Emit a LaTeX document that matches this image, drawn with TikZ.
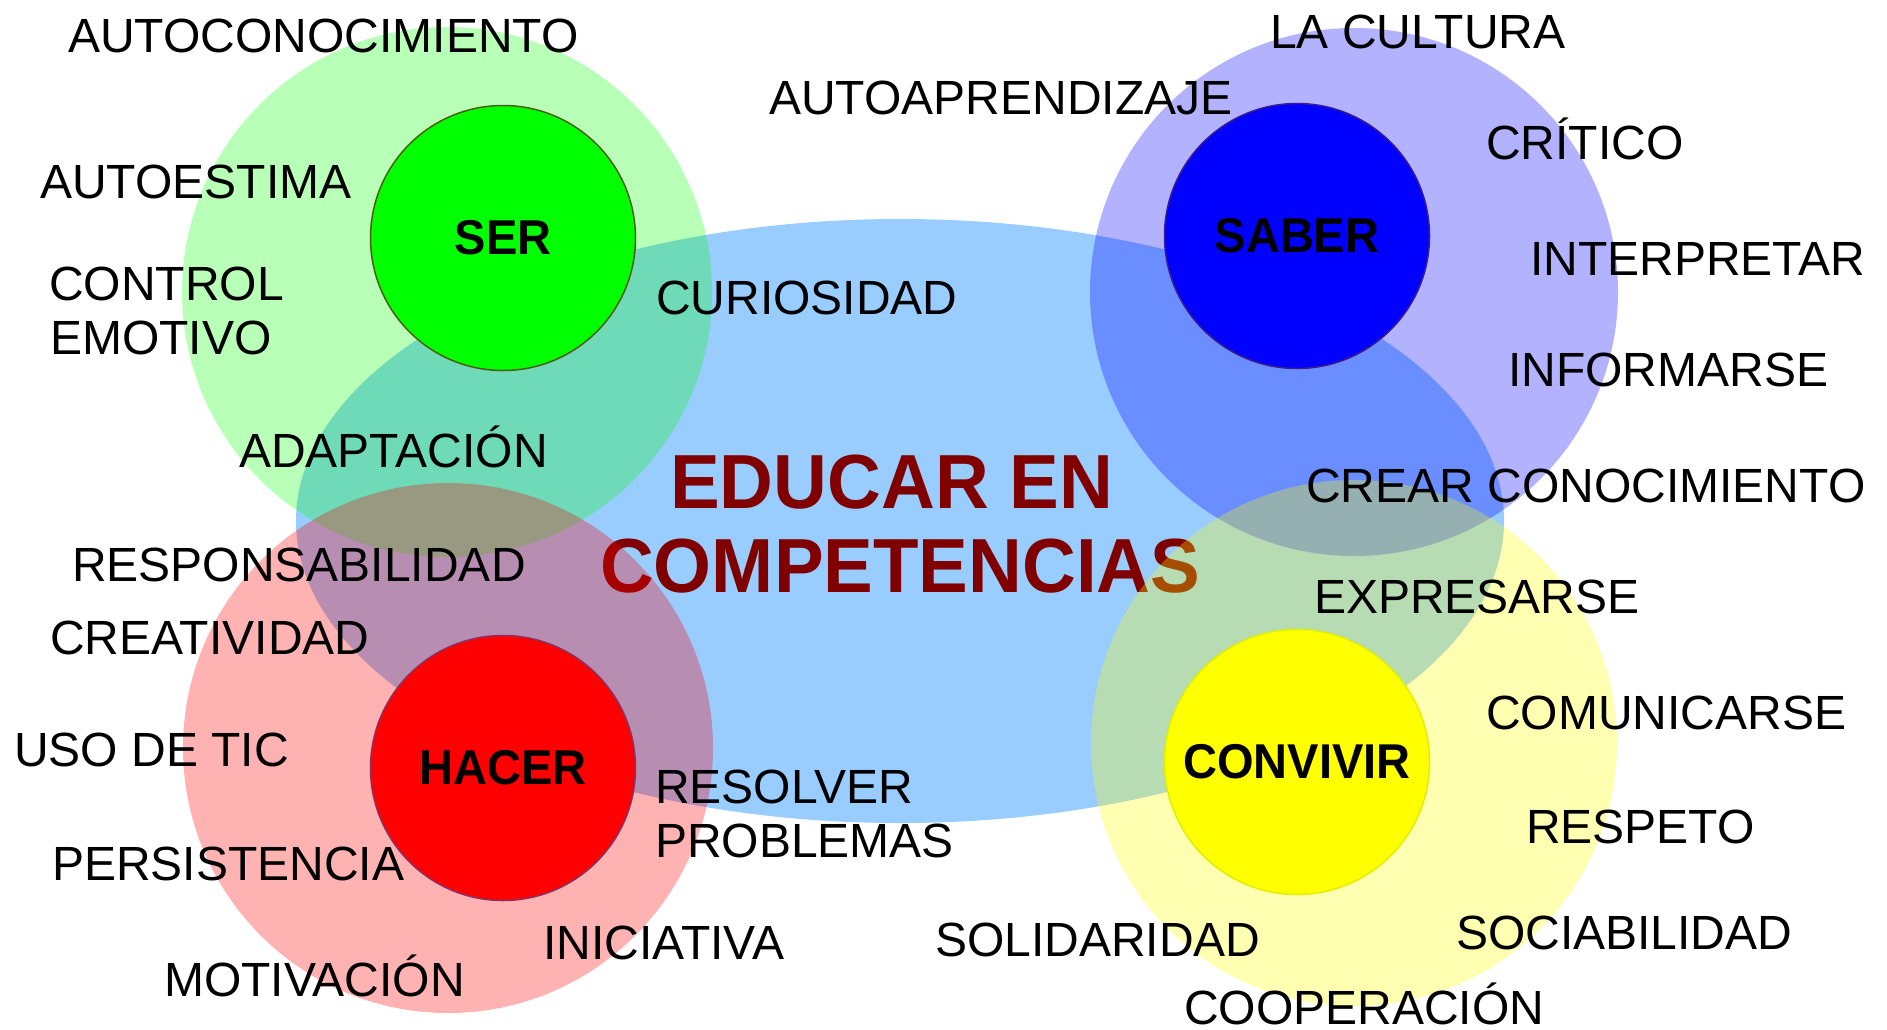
\documentclass[tikz,border=0pt]{standalone}
\usepackage{fontspec}
\setmainfont{Liberation Sans}
\usetikzlibrary{shapes.geometric}
\definecolor{ellblue}{HTML}{99CCFF}
\definecolor{titlered}{HTML}{800000}
\definecolor{pgreen}{HTML}{00FF00}
\definecolor{pblue}{HTML}{0000FF}
\definecolor{pred}{HTML}{FF0000}
\definecolor{pyellow}{HTML}{FFFF00}
\definecolor{serline}{HTML}{4D5E13}
\definecolor{saberline}{HTML}{3A1C8C}
\definecolor{hacerline}{HTML}{8B3060}
\definecolor{convline}{HTML}{DDF000}
\newcommand\lblfont{\fontsize{48}{54}\selectfont}
\newcommand\corefont{\fontsize{47}{52}\selectfont\bfseries}
\newcommand\ttlfont{\fontsize{74.5}{80}\selectfont\bfseries}
\begin{document}
\begin{tikzpicture}[x=1pt,y=-1pt,
  bigcirc/.style={circle,inner sep=0pt,minimum size=#1,fill opacity=0.3},
  core/.style={circle,inner sep=0pt,minimum size=265pt,line width=1.5pt,font=\corefont},
  lbl/.style={anchor=base west,inner sep=0pt,font=\lblfont},
  ttl/.style={anchor=base west,inner sep=0pt,font=\ttlfont,text=titlered}]
\useasboundingbox (0,0) rectangle (1887,1029);
\fill[white] (0,0) rectangle (1887,1029);
% central ellipse
\node[ellipse,inner sep=0pt,minimum width=1208pt,minimum height=604pt,fill=ellblue] (ell) at (900,521) {};
% title
\node[ttl] (t1) at (670,508) {\scalebox{1}[1.03]{EDUCAR EN}};
\node[ttl] (t2) at (600,592) {\scalebox{1}[1.03]{COMPETENCIAS}};
% big translucent circles
\node[bigcirc=530pt,fill=pgreen,fill opacity=0.28] (gser) at (447,292) {};
\node[bigcirc=528pt,fill=pblue] (gsaber) at (1354,292) {};
\node[bigcirc=530pt,fill=pred] (ghacer) at (448,748) {};
\node[bigcirc=526pt,fill=pyellow] (gconv) at (1354,743) {};
% core circles
\node[core,fill=pgreen,draw=serline] (ser) at (503,238) {\scalebox{1}[1.04]{SER}};
\node[core,fill=pblue,draw=saberline] (saber) at (1297,236) {\scalebox{1}[1.04]{SABER}};
\node[core,fill=pred,draw=hacerline] (hacer) at (503,768) {\scalebox{1}[1.04]{HACER}};
\node[core,fill=pyellow,draw=convline] (conv) at (1297,762) {\scalebox{1}[1.04]{CONVIVIR}};
% labels
\node[lbl] (l1) at (68,52) {AUTOCONOCIMIENTO};
\node[lbl] (l2) at (40,198) {AUTOESTIMA};
\node[lbl] (l3) at (49,300) {CONTROL};
\node[lbl] (l4) at (50,354) {EMOTIVO};
\node[lbl] (l5) at (239,467) {ADAPTACIÓN};
\node[lbl] (l6) at (656,314) {CURIOSIDAD};
\node[lbl] (l7) at (769,114) {AUTOAPRENDIZAJE};
\node[lbl] (l8) at (1270,48) {LA CULTURA};
\node[lbl] (l9) at (1486,159) {CRÍTICO};
\node[lbl] (l10) at (1530,275) {INTERPRETAR};
\node[lbl] (l11) at (1508,386) {INFORMARSE};
\node[lbl] (l12) at (1306,502) {CREAR CONOCIMIENTO};
\node[lbl] (l13) at (1314,613) {EXPRESARSE};
\node[lbl] (l14) at (1486,729) {COMUNICARSE};
\node[lbl] (l15) at (1526,843) {RESPETO};
\node[lbl] (l16) at (1456,949) {SOCIABILIDAD};
\node[lbl] (l17) at (1184,1024) {COOPERACIÓN};
\node[lbl] (l18) at (935,956) {SOLIDARIDAD};
\node[lbl] (l19) at (543,959) {INICIATIVA};
\node[lbl] (l20) at (164,996) {MOTIVACIÓN};
\node[lbl] (l21) at (52,880) {PERSISTENCIA};
\node[lbl] (l22) at (14,766) {USO DE TIC};
\node[lbl] (l23) at (50,654) {CREATIVIDAD};
\node[lbl] (l24) at (72,581) {RESPONSABILIDAD};
\node[lbl] (l25) at (655,803) {RESOLVER};
\node[lbl] (l26) at (655,857) {PROBLEMAS};
\end{tikzpicture}
\end{document}
